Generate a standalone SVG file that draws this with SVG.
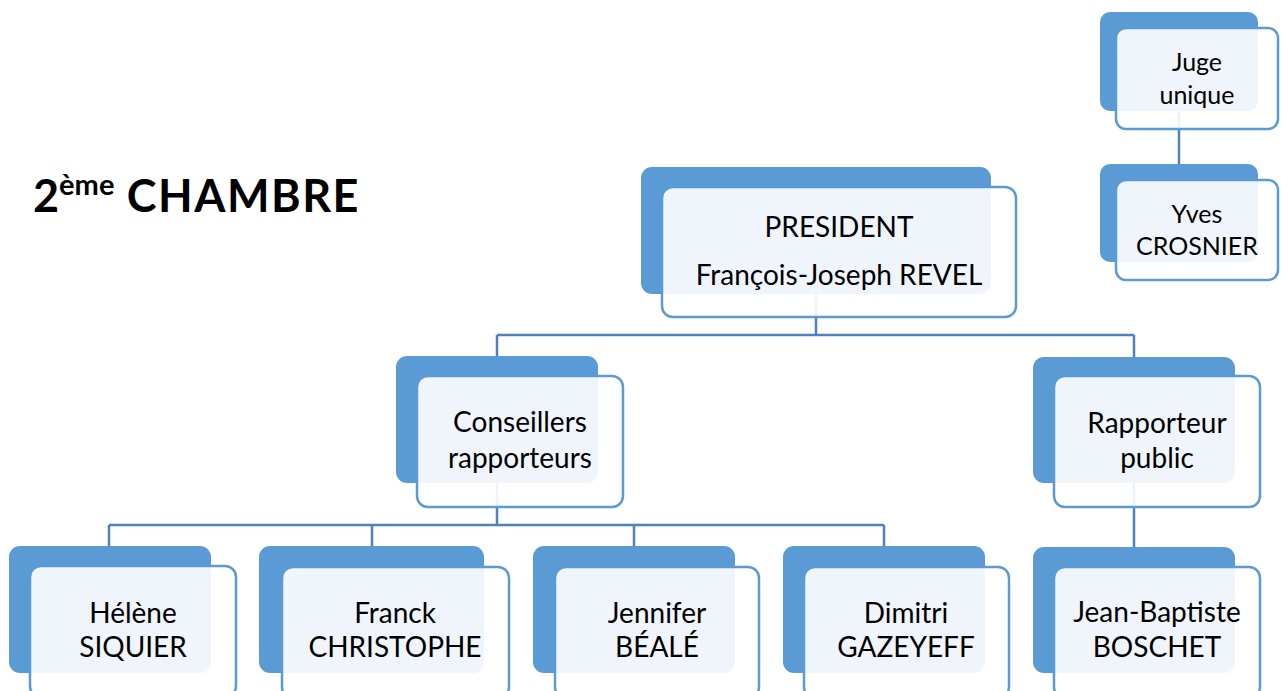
<svg xmlns="http://www.w3.org/2000/svg" width="1281" height="691" viewBox="0 0 1281 691">
<style>
.back{fill:#5B9BD5;}
.front{fill:#FFFFFF;fill-opacity:0.9;stroke:#5B9BD5;stroke-width:2.5;}
.conn{stroke:#4F81BD;stroke-width:2.5;fill:none;}
.t{font-family:Lato,"Open Sans","Liberation Sans",sans-serif;font-size:28px;fill:#000;text-anchor:middle;}
.ts{font-size:25px;}
.title{font-family:Lato,"Open Sans","Liberation Sans",sans-serif;font-weight:bold;font-size:45px;fill:#000;}
</style>
<rect width="1281" height="691" fill="#FFFFFF"/>
<text class="title" x="33" y="212">2<tspan font-size="29" dy="-17">ème</tspan><tspan dy="17" letter-spacing="1.5"> CHAMBRE</tspan></text>
<g id="connectors">
<path class="conn" d="M816,293 V335 M497,335 H1134 M497,335 V357 M1134,335 V357"/>
<path class="conn" d="M497,483 V525 M109,525 H884 M109,525 V546 M372,525 V546 M634,525 V546 M884,525 V546"/>
<path class="conn" d="M1134,483 V547"/>
<path class="conn" d="M1179,111 V164"/>
</g>
<g id="president">
<rect class="back" x="641" y="167" width="350" height="127" rx="11"/>
<rect class="front" x="662" y="187" width="354" height="130" rx="11"/>
<text class="t" x="839" y="237">PRESIDENT</text>
<text class="t" x="839" y="285">François-Joseph REVEL</text>
</g>
<g id="juge-unique">
<rect class="back" x="1100" y="12" width="158" height="99" rx="10"/>
<rect class="front" x="1116" y="28" width="162" height="101" rx="10"/>
<text class="t ts" x="1197" y="71">Juge</text>
<text class="t ts" x="1197" y="104">unique</text>
</g>
<g id="yves-crosnier">
<rect class="back" x="1100" y="164" width="158" height="98" rx="10"/>
<rect class="front" x="1116" y="180" width="162" height="100" rx="10"/>
<text class="t ts" x="1197" y="223">Yves</text>
<text class="t ts" x="1197" y="255">CROSNIER</text>
</g>
<g id="conseillers">
<rect class="back" x="396" y="356" width="202" height="127" rx="11"/>
<rect class="front" x="417" y="376" width="206" height="131" rx="11"/>
<text class="t" x="520" y="432">Conseillers</text>
<text class="t" x="520" y="468">rapporteurs</text>
</g>
<g id="rapporteur-public">
<rect class="back" x="1033" y="357" width="202" height="126" rx="11"/>
<rect class="front" x="1054" y="376" width="206" height="131" rx="11"/>
<text class="t" x="1157" y="433">Rapporteur</text>
<text class="t" x="1157" y="468">public</text>
</g>
<g id="helene-siquier">
<rect class="back" x="9" y="546" width="202" height="127" rx="11"/>
<rect class="front" x="30" y="566" width="206" height="131" rx="11"/>
<text class="t" x="133" y="623">Hélène</text>
<text class="t" x="133" y="657">SIQUIER</text>
</g>
<g id="franck-christophe">
<rect class="back" x="259" y="546" width="225" height="127" rx="11"/>
<rect class="front" x="282" y="567" width="227" height="131" rx="11"/>
<text class="t" x="395" y="623">Franck</text>
<text class="t" x="395" y="657">CHRISTOPHE</text>
</g>
<g id="jennifer-beale">
<rect class="back" x="533" y="546" width="202" height="127" rx="11"/>
<rect class="front" x="555" y="567" width="204" height="131" rx="11"/>
<text class="t" x="657" y="623">Jennifer</text>
<text class="t" x="657" y="657">BÉALÉ</text>
</g>
<g id="dimitri-gazeyeff">
<rect class="back" x="783" y="546" width="202" height="127" rx="11"/>
<rect class="front" x="804" y="567" width="205" height="131" rx="11"/>
<text class="t" x="906" y="623">Dimitri</text>
<text class="t" x="906" y="657">GAZEYEFF</text>
</g>
<g id="jean-baptiste-boschet">
<rect class="back" x="1033" y="547" width="202" height="126" rx="11"/>
<rect class="front" x="1054" y="567" width="206" height="131" rx="11"/>
<text class="t" x="1157" y="622">Jean-Baptiste</text>
<text class="t" x="1157" y="657">BOSCHET</text>
</g>
</svg>
